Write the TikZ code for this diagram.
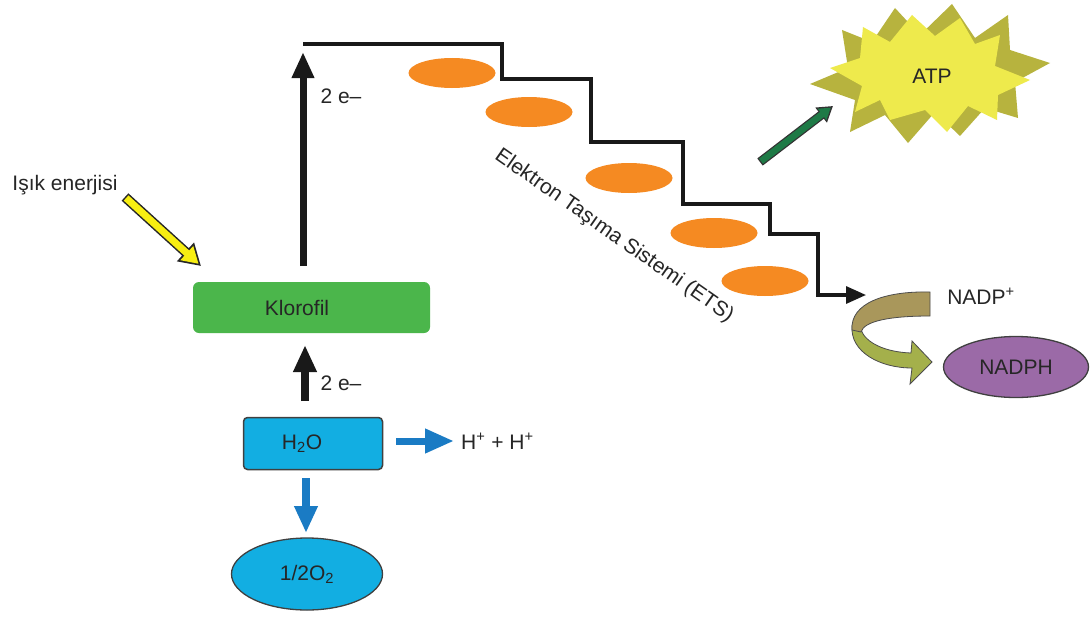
\documentclass[tikz,border=0pt]{standalone}
\usepackage{fontspec}
\setmainfont{Liberation Sans}
\usetikzlibrary{arrows.meta,shapes.geometric}
\definecolor{orng}{HTML}{F58A22}
\definecolor{kgreen}{HTML}{4BB64B}
\definecolor{cyanf}{HTML}{12AEE2}
\definecolor{bluea}{HTML}{1A7BC4}
\definecolor{purp}{HTML}{9B6AA7}
\definecolor{olive}{HTML}{B7B33E}
\definecolor{yel}{HTML}{EEEA4C}
\definecolor{ybright}{HTML}{F7EE12}
\definecolor{garrow}{HTML}{1E7A46}
\definecolor{brownr}{HTML}{A9975B}
\definecolor{greenr}{HTML}{A4B04B}
\definecolor{txt}{HTML}{262626}
\begin{document}
\begin{tikzpicture}[x=1pt,y=-1pt,
  lbl/.style={font=\fontsize{21}{25}\selectfont, text=txt, inner sep=0pt},
  carrier/.style={ellipse, fill=orng, minimum width=87pt, minimum height=30pt, inner sep=0pt},
  bigup/.style={draw=black!90, line width=7pt, -{Triangle[width=21pt,length=26pt]}},
  bluearr/.style={draw=bluea, line width=7pt, -{Triangle[width=23pt,length=29pt]}},
  stair/.style={draw=black!90, line width=3.2pt},
]
\useasboundingbox (0,0) rectangle (1091,618);
\fill[white] (0,0) rectangle (1091,618);

% ---- ATP starburst ----
\fill[olive] (810,84) -- (848,68) -- (842,30) -- (872,42) -- (895,8) -- (920,35) -- (952,4) -- (975,38) -- (1008,15) -- (1010,50) -- (1050,63) -- (1015,82) -- (1018,118) -- (985,108) -- (960,136) -- (935,112) -- (908,143) -- (885,115) -- (850,132) -- (855,100) -- cycle;
\fill[yel] (830,68) -- (860,58) -- (863,27) -- (890,42) -- (912,15) -- (935,36) -- (960,18) -- (975,44) -- (1000,35) -- (995,66) -- (1030,80) -- (998,95) -- (997,120) -- (968,106) -- (947,132) -- (925,110) -- (890,120) -- (880,100) -- (855,112) -- (862,86) -- cycle;
\node[lbl] (atp) at (932,76) {ATP};

% ---- Klorofil ----
\node[lbl, fill=kgreen, rounded corners=6pt, minimum width=237pt, minimum height=51pt] (klor) at (311.5,307.5) {Klorofil\kern29pt};

% ---- H2O ----
\node[lbl, fill=cyanf, draw=black!75, line width=1.5pt, rounded corners=4pt, minimum width=139pt, minimum height=52pt] (h2o) at (313,443.5) {H\textsubscript{2}O\kern22pt};

% ---- 1/2 O2 ----
\node[lbl, ellipse, fill=cyanf, draw=black!75, line width=1.3pt, minimum width=151pt, minimum height=72pt] (o2) at (307,574) {1/2O\textsubscript{2}};

% ---- H+ + H+ ----
\node[lbl, anchor=west] (hplus) at (461,441) {H\textsuperscript{+} + H\textsuperscript{+}};

% ---- labels ----
\node[lbl] (isik) at (65,185) {Işık enerjisi};
\node[lbl] (e1) at (341,96) {2 e–};
\node[lbl] (e2) at (341,383) {2 e–};
\node[lbl, rotate=-35] (ets) at (614,236) {Elektron Taşıma Sistemi (ETS)};
\node[lbl] (nadpplus) at (981,296) {NADP\textsuperscript{+}};
\node[lbl, ellipse, fill=purp, draw=black!75, line width=1.3pt, minimum width=145pt, minimum height=61pt] (nadph) at (1016,367) {NADPH};

% ---- carriers ----
\node[carrier] (c1) at (452,73) {};
\node[carrier] (c2) at (529,112) {};
\node[carrier] (c3) at (629,178) {};
\node[carrier] (c4) at (714,233) {};
\node[carrier] (c5) at (765,281) {};

% ---- staircase ----
\coordinate (s0) at (303,44);
\coordinate (send) at (866,295);
\draw[stair] (s0) -- (502,44) -- (502,79) -- (591,79) -- (591,142) -- (683,142) -- (683,204) -- (770,204) -- (770,234) -- (818,234) -- (818,295) -- (848,295);
\draw[draw=black!90, line width=3.2pt, -{Triangle[width=17pt,length=20pt]}] (840,295) -- (send);

% ---- black arrows ----
\coordinate (a1s) at (303,266);
\coordinate (a1e) at (303,52);
\draw[bigup] (a1s) -- (a1e);
\coordinate (a2s) at (305,401);
\coordinate (a2e) at (305,345);
\draw[draw=black!90, line width=8pt, -{Triangle[width=22pt,length=27pt]}] (a2s) -- (a2e);

% ---- blue arrows ----
\coordinate (b1s) at (396,441);
\coordinate (b1e) at (454,441);
\draw[bluearr] (b1s) -- (b1e);
\coordinate (b2s) at (306,478);
\coordinate (b2e) at (306,533);
\draw[draw=bluea, line width=8pt, -{Triangle[width=22pt,length=27pt]}] (b2s) -- (b2e);

% ---- yellow light arrow ----
\coordinate (ys) at (125,197);
\coordinate (ye) at (201,266);
\draw[draw=black!85, line width=10pt, -{Triangle[width=24pt,length=21pt]}] (ys) -- (ye);
\draw[draw=ybright, line width=7pt, shorten <=1.5pt, shorten >=3.2pt, -{Triangle[width=18pt,length=16pt]}] (ys) -- (ye);

% ---- green ATP arrow ----
\coordinate (gs) at (760,162);
\coordinate (ge) at (833,106);
\draw[draw=black!80, line width=9pt, -{Triangle[width=18pt,length=15pt]}] (gs) -- (ge);
\draw[draw=garrow, line width=6.5pt, shorten <=1.3pt, shorten >=2.8pt, -{Triangle[width=13.5pt,length=11pt]}] (gs) -- (ge);

% ---- NADP+ -> NADPH ribbon arrow ----
\filldraw[fill=greenr, draw=black!70, line width=0.8pt]
  (852,326) .. controls (850,352) and (880,368) .. (912,368) -- (910,384) -- (932,362) -- (912,341) -- (911,353) .. controls (885,352) and (866,343) .. (861,330) -- cycle;
\filldraw[fill=brownr, draw=black!70, line width=0.8pt]
  (930,292) .. controls (885,291) and (850,303) .. (852,330) -- (861,332) .. controls (864,321) and (890,316) .. (930,316) -- cycle;

\end{tikzpicture}
\end{document}
